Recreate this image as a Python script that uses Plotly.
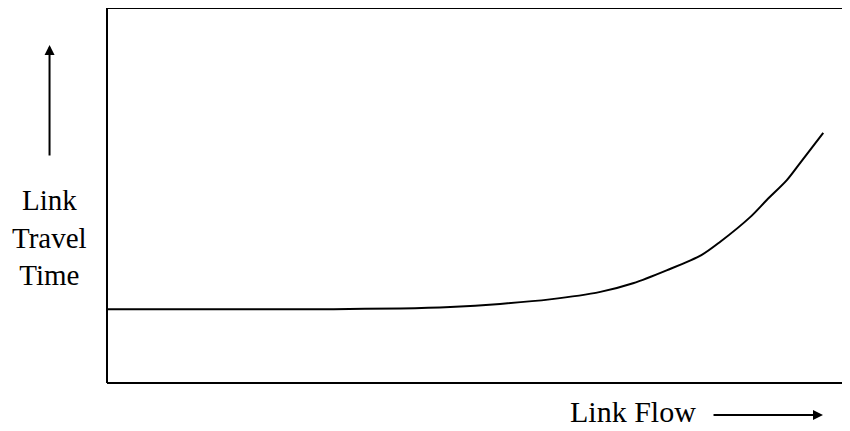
import plotly.graph_objects as go

# Curve data (arbitrary units: flow 0-100, travel time 0-100)
flow = [0, 19.3, 30.5, 39.5, 46.2, 52.9, 59.6, 66.4, 70.8, 75.4, 80.0, 82.5, 86.6, 88.8, 91.5, 93.3, 96.4]
travel_time = [19.65, 19.65, 19.7, 19.9, 20.3, 21.1, 22.3, 24.3, 26.6, 30.1, 34.1, 37.6, 44.3, 48.8, 54.1, 58.7, 66.7]

y_label_lines = ["Link", "Travel", "Time"]
x_label = "Link Flow"

OFF = 8  # page body margin offset
W, H = 850 - OFF, 431 - OFF
# plot area in screen pixels
L, R, T, B = 106.5, 850, 8, 383

def px(x):
    return (x - L) / (R - L)

def py(y):
    return (B - y) / (B - T)

FONT = "Liberation Serif, Times New Roman, DejaVu Serif, serif"

fig = go.Figure()
fig.add_trace(go.Scatter(
    x=flow, y=travel_time, mode="lines",
    line=dict(color="black", width=2, shape="spline", smoothing=0.8),
    hoverinfo="skip", showlegend=False,
))

annotations = [
    dict(text="<br>".join(y_label_lines), x=px(49), y=py(238), xref="paper", yref="paper",
         xanchor="center", yanchor="middle", showarrow=False, align="center",
         font=dict(family=FONT, size=29, color="black")),
    dict(text=x_label, x=px(698), y=py(412), xref="paper", yref="paper",
         xanchor="right", yanchor="middle", showarrow=False,
         font=dict(family=FONT, size=30, color="black")),
    dict(text="", x=px(49), y=py(45), xref="paper", yref="paper",
         showarrow=True, ax=0, ay=112, axref="pixel", ayref="pixel",
         arrowhead=2, arrowsize=1, arrowwidth=2, arrowcolor="black"),
    dict(text="", x=px(823), y=py(415), xref="paper", yref="paper",
         showarrow=True, ax=-111, ay=0, axref="pixel", ayref="pixel",
         arrowhead=2, arrowsize=1, arrowwidth=2, arrowcolor="black"),
]

box_line = dict(color="black", width=2)
shapes = [
    dict(type="line", xref="paper", yref="paper", x0=0, x1=1.0, y0=0, y1=0, line=box_line),
    dict(type="line", xref="paper", yref="paper", x0=0, x1=1.0, y0=1, y1=1, line=box_line),
    dict(type="line", xref="paper", yref="paper", x0=0, x1=0, y0=0, y1=1, line=box_line),
]

fig.update_layout(
    width=W, height=H,
    margin=dict(l=L - OFF, r=W - (R - OFF), t=T - OFF, b=H - (B - OFF), pad=0, autoexpand=False),
    plot_bgcolor="rgba(0,0,0,0)", paper_bgcolor="white",
    xaxis=dict(range=[0, 100], showgrid=False, zeroline=False, showticklabels=False,
               ticks="", showline=False, visible=False),
    yaxis=dict(range=[0, 100], showgrid=False, zeroline=False, showticklabels=False,
               ticks="", showline=False, visible=False),
    annotations=annotations,
    shapes=shapes,
    showlegend=False,
    dragmode=False,
)

fig.write_html("out.html", config={"displayModeBar": False, "staticPlot": True})
